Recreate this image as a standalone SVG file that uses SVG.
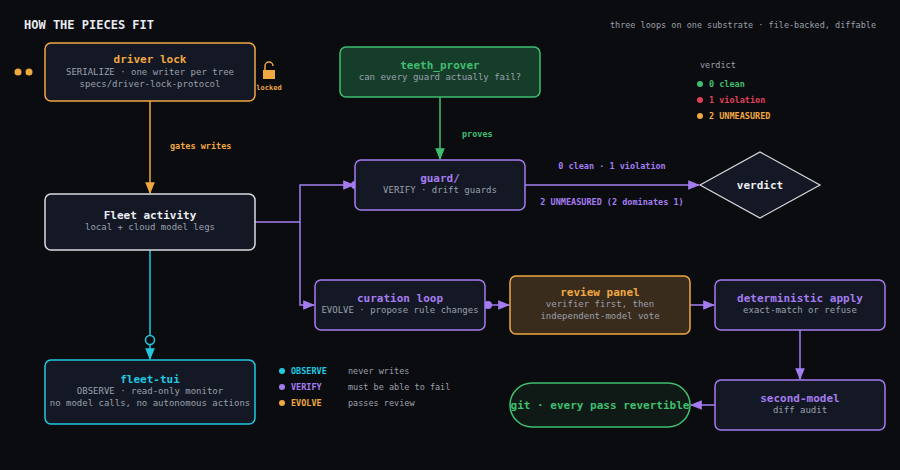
<svg xmlns="http://www.w3.org/2000/svg" width="900" height="470" viewBox="0 0 900 470">
<defs>
<style>
text{font-family:"DejaVu Sans Mono","Liberation Mono",monospace;}
.t{font-size:11px;font-weight:bold;text-anchor:middle}
.s{font-size:9px;fill:#9aa0ac;text-anchor:middle}
.l{font-size:8.5px;font-weight:bold}
.node{fill:#141824;stroke-width:1.5}
</style>
<marker id="ao" viewBox="0 0 10 10" refX="9" refY="5" markerWidth="8" markerHeight="8" orient="auto"><path d="M0,1L10,5L0,9z" fill="#f0a840"/></marker>
<marker id="ag" viewBox="0 0 10 10" refX="9" refY="5" markerWidth="8" markerHeight="8" orient="auto"><path d="M0,1L10,5L0,9z" fill="#3fbf6f"/></marker>
<marker id="ap" viewBox="0 0 10 10" refX="9" refY="5" markerWidth="8" markerHeight="8" orient="auto"><path d="M0,1L10,5L0,9z" fill="#a57cf0"/></marker>
<marker id="ac" viewBox="0 0 10 10" refX="9" refY="5" markerWidth="8" markerHeight="8" orient="auto"><path d="M0,1L10,5L0,9z" fill="#22c8e0"/></marker>
</defs>
<rect width="900" height="470" fill="#0b0c10"/>
<text x="24" y="29" font-size="12" font-weight="bold" fill="#e8eaf0">HOW THE PIECES FIT</text>
<text x="876" y="28" font-size="8.5" fill="#9aa0ac" text-anchor="end">three loops on one substrate · file-backed, diffable</text>

<g id="connectors" fill="none" stroke-width="1.5">
<path d="M150,101V193" stroke="#f0a840" marker-end="url(#ao)"/>
<path d="M440,97V159" stroke="#3fbf6f" marker-end="url(#ag)"/>
<path d="M255,222H300V185H354" stroke="#a57cf0" marker-end="url(#ap)"/>
<path d="M300,222V305H314" stroke="#a57cf0" marker-end="url(#ap)"/>
<path d="M525,185H699" stroke="#a57cf0" marker-end="url(#ap)"/>
<path d="M488,305H509" stroke="#a57cf0" marker-end="url(#ap)"/>
<path d="M690,305H714" stroke="#a57cf0" marker-end="url(#ap)"/>
<path d="M800,330V379" stroke="#a57cf0" marker-end="url(#ap)"/>
<path d="M715,405H691" stroke="#a57cf0" marker-end="url(#ap)"/>
<path d="M150,250V359" stroke="#22c8e0" marker-end="url(#ac)"/>
<circle cx="150" cy="340" r="4.5" fill="#0b0c10" stroke="#22c8e0"/>
<circle cx="355" cy="185" r="4" fill="#a57cf0" stroke="none"/>
<circle cx="488" cy="305" r="4" fill="#a57cf0" stroke="none"/>
<text x="170" y="149" class="l" fill="#f0a840" stroke="none">gates writes</text>
<text x="462" y="137" class="l" fill="#3fbf6f" stroke="none">proves</text>
<text x="612" y="169" class="l" fill="#a57cf0" stroke="none" text-anchor="middle">0 clean · 1 violation</text>
<text x="612" y="205" class="l" fill="#a57cf0" stroke="none" text-anchor="middle">2 UNMEASURED (2 dominates 1)</text>
</g>

<g id="driver-lock">
<circle cx="18" cy="72" r="3.5" fill="#f0a840"/><circle cx="29" cy="72" r="3.5" fill="#f0a840"/>
<rect x="45" y="43" width="210" height="58" rx="6" class="node" stroke="#f0a840"/>
<text x="150" y="63" class="t" fill="#f0a840">driver lock</text>
<text x="150" y="75" class="s">SERIALIZE · one writer per tree</text>
<text x="150" y="87" class="s">specs/driver-lock-protocol</text>
<path d="M265,70V66a4,4 0 0 1 8,0" fill="none" stroke="#f0a840" stroke-width="1.5"/>
<rect x="263" y="70" width="12" height="9" fill="#f0a840"/>
<text x="269" y="90" font-size="7" font-weight="bold" fill="#f0a840" text-anchor="middle">locked</text>
</g>

<g id="teeth-prover">
<rect x="340" y="47" width="200" height="50" rx="6" fill="#163d2a" stroke="#3fbf6f" stroke-width="1.5"/>
<text x="440" y="69" class="t" fill="#3fbf6f">teeth_prover</text>
<text x="440" y="80" class="s">can every guard actually fail?</text>
</g>

<g id="guard">
<rect x="355" y="160" width="170" height="50" rx="6" class="node" stroke="#a57cf0"/>
<text x="440" y="182" class="t" fill="#a57cf0">guard/</text>
<text x="440" y="193" class="s">VERIFY · drift guards</text>
</g>

<g id="fleet-activity">
<rect x="45" y="194" width="210" height="56" rx="6" class="node" stroke="#d8dae0"/>
<text x="150" y="219" class="t" font-size="12" fill="#eceef2">Fleet activity</text>
<text x="150" y="230" class="s">local + cloud model legs</text>
</g>

<g id="verdict">
<polygon points="700,185 760,152 820,185 760,218" fill="#141824" stroke="#d8dae0" stroke-width="1.2"/>
<text x="760" y="189" class="t" fill="#eceef2">verdict</text>
</g>

<g id="curation-loop">
<rect x="315" y="280" width="170" height="50" rx="6" class="node" stroke="#a57cf0"/>
<text x="400" y="302" class="t" fill="#a57cf0">curation loop</text>
<text x="400" y="313" class="s">EVOLVE · propose rule changes</text>
</g>

<g id="review-panel">
<rect x="510" y="276" width="180" height="58" rx="6" fill="#3a2c1c" stroke="#f0a840" stroke-width="1.5"/>
<text x="600" y="296" class="t" fill="#f0a840">review panel</text>
<text x="600" y="307" class="s">verifier first, then</text>
<text x="600" y="319" class="s">independent-model vote</text>
</g>

<g id="deterministic-apply">
<rect x="715" y="280" width="170" height="50" rx="6" class="node" stroke="#a57cf0"/>
<text x="800" y="302" class="t" fill="#a57cf0">deterministic apply</text>
<text x="800" y="313" class="s">exact-match or refuse</text>
</g>

<g id="second-model">
<rect x="715" y="380" width="170" height="50" rx="6" class="node" stroke="#a57cf0"/>
<text x="800" y="402" class="t" fill="#a57cf0">second-model</text>
<text x="800" y="413" class="s">diff audit</text>
</g>

<g id="git">
<rect x="510" y="383" width="180" height="44" rx="22" fill="#0f1a16" stroke="#3fbf6f" stroke-width="1.5"/>
<text x="600" y="409" class="t" fill="#3fbf6f">git · every pass revertible</text>
</g>

<g id="fleet-tui">
<rect x="45" y="360" width="210" height="64" rx="6" class="node" stroke="#22c8e0"/>
<text x="150" y="383" class="t" fill="#22c8e0">fleet-tui</text>
<text x="150" y="394" class="s">OBSERVE · read-only monitor</text>
<text x="150" y="406" class="s">no model calls, no autonomous actions</text>
</g>

<g id="legend">
<circle cx="282" cy="371" r="3" fill="#22c8e0"/><text x="291" y="374" class="l" fill="#22c8e0">OBSERVE</text><text x="348" y="374" font-size="8.5" fill="#9aa0ac">never writes</text>
<circle cx="282" cy="387" r="3" fill="#a57cf0"/><text x="291" y="390" class="l" fill="#a57cf0">VERIFY</text><text x="348" y="390" font-size="8.5" fill="#9aa0ac">must be able to fail</text>
<circle cx="282" cy="403" r="3" fill="#f0a840"/><text x="291" y="406" class="l" fill="#f0a840">EVOLVE</text><text x="348" y="406" font-size="8.5" fill="#9aa0ac">passes review</text>
</g>

<g id="verdict-legend">
<text x="700" y="68" font-size="8.5" fill="#9aa0ac">verdict</text>
<circle cx="700" cy="84" r="3" fill="#3fbf6f"/><text x="709" y="87" class="l" fill="#3fbf6f">0 clean</text>
<circle cx="700" cy="100" r="3" fill="#e0405a"/><text x="709" y="103" class="l" fill="#e0405a">1 violation</text>
<circle cx="700" cy="116" r="3" fill="#f0a840"/><text x="709" y="119" class="l" fill="#f0a840">2 UNMEASURED</text>
</g>
</svg>
